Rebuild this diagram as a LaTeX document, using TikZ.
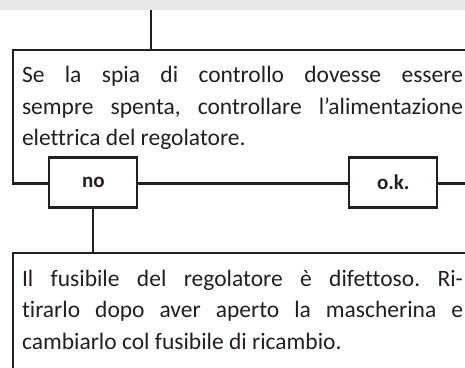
\documentclass[tikz,border=0pt]{standalone}
\usepackage{fontspec}
\setmainfont{Carlito}[Ligatures={TeX,NoCommon}]
\usetikzlibrary{positioning}
\definecolor{inkdark}{RGB}{35,31,32}
\definecolor{bandgray}{RGB}{230,231,232}
\frenchspacing

\begin{document}
\begin{tikzpicture}[
  x=1pt, y=-1pt,
  line width=2.2pt, color=inkdark,
  msgbox/.style={draw, outer sep=0pt, inner xsep=9pt, inner ysep=0pt,
    anchor=north west, text width=441pt, align=justify,
    font=\fontsize{23.5}{31.7}\selectfont},
  ansbox/.style={draw, fill=white, outer sep=0pt, minimum width=88pt,
    minimum height=50pt, font=\fontsize{21}{24}\selectfont\bfseries}
]
\clip (0,0) rectangle (465,367);
\fill[bandgray] (0,0) rectangle (465,10);
\coordinate (top) at (151,10);

\node[msgbox, text height=32.5pt, text depth=101pt] (check) at (13,50)
  {Se la spia di controllo dovesse essere\linebreak
   sempre spenta, controllare l’alimentazione\linebreak
   elettrica del regolatore.};
\node[ansbox] (no) at (93.3,182.5) {no};
\node[ansbox] (ok) at (393.3,182.5) {o.k.};
\node[msgbox, text height=33pt, text depth=120pt] (fuse) at (13,253)
  {Il fusibile del regolatore è difettoso. Ri-\linebreak
   tirarlo dopo aver aperto la mascherina e\linebreak
   cambiarlo col fusibile di ricambio.};

\draw (top) -- (top |- check.north);
\draw (no.south) -- (no.south |- fuse.north);

\end{tikzpicture}
\end{document}
